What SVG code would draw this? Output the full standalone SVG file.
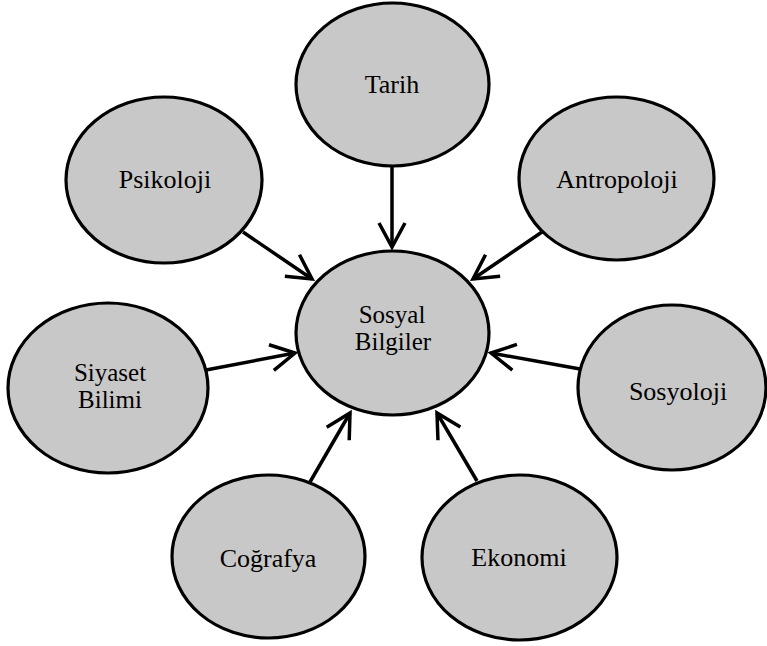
<svg xmlns="http://www.w3.org/2000/svg" width="767" height="646" viewBox="0 0 767 646">
<defs>
<marker id="arr" markerUnits="userSpaceOnUse" markerWidth="40" markerHeight="40" viewBox="-30 -20 40 40" refX="0" refY="0" orient="auto">
<path d="M-24,-13 L0,0 L-24,13" fill="none" stroke="#000" stroke-width="3.5" stroke-linejoin="miter"/>
</marker>
</defs>
<style>
.n ellipse{fill:#c8c8c8;stroke:#000;stroke-width:3.2}
.n text{font-family:"Liberation Serif","Times New Roman",serif;font-size:26px;fill:#000;text-anchor:middle}
.n text.two{font-size:25px}
#connectors line{stroke:#000;stroke-width:3.5;marker-end:url(#arr)}
</style>
<rect width="767" height="646" fill="#fff"/>
<g id="connectors">
<line x1="392" y1="167" x2="392" y2="247"/>
<line x1="243" y1="232" x2="312" y2="279"/>
<line x1="542" y1="232" x2="473" y2="279"/>
<line x1="206" y1="370" x2="295" y2="353"/>
<line x1="580" y1="369" x2="491" y2="353"/>
<line x1="310" y1="482" x2="350" y2="413"/>
<line x1="477" y1="481" x2="437" y2="413"/>
</g>
<g id="tarih" class="n">
<ellipse cx="392.5" cy="84.5" rx="96.5" ry="81.5"/>
<text x="392" y="93" font-size="27">Tarih</text>
</g>
<g id="psikoloji" class="n">
<ellipse cx="164" cy="180" rx="98" ry="83"/>
<text x="165" y="188">Psikoloji</text>
</g>
<g id="antropoloji" class="n">
<ellipse cx="616.5" cy="178.5" rx="97.5" ry="81.5"/>
<text x="617" y="188">Antropoloji</text>
</g>
<g id="sosyal-bilgiler" class="n">
<ellipse cx="392.5" cy="333" rx="96.5" ry="82"/>
<text class="two" x="392" y="323">Sosyal</text>
<text class="two" x="393" y="350">Bilgiler</text>
</g>
<g id="siyaset-bilimi" class="n">
<ellipse cx="108" cy="388" rx="100" ry="85"/>
<text class="two" x="110" y="381">Siyaset</text>
<text class="two" x="110" y="408">Bilimi</text>
</g>
<g id="sosyoloji" class="n">
<ellipse cx="672" cy="387.5" rx="94" ry="82.5"/>
<text x="678" y="400" font-size="29">Sosyoloji</text>
</g>
<g id="cografya" class="n">
<ellipse cx="268.5" cy="556.5" rx="96.5" ry="81.5"/>
<text x="268" y="567">Coğrafya</text>
</g>
<g id="ekonomi" class="n">
<ellipse cx="519.5" cy="557.5" rx="97.5" ry="82.5"/>
<text x="519" y="566">Ekonomi</text>
</g>
</svg>
